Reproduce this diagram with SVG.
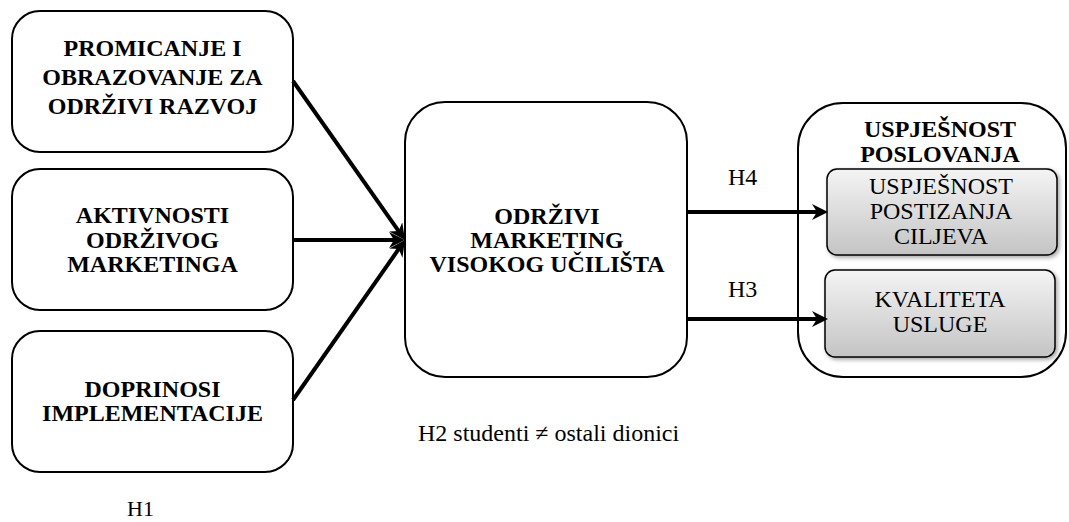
<svg xmlns="http://www.w3.org/2000/svg" width="1069" height="522" viewBox="0 0 1069 522">
<style>
.box{fill:#fff;stroke:#000;stroke-width:2}
.inner{fill:url(#g);stroke:#000;stroke-width:1.5;filter:url(#sh)}
.tb{font-family:"Liberation Serif","Times New Roman",serif;font-weight:bold;font-size:24px;text-anchor:middle;fill:#000}
.tr{font-family:"Liberation Serif","Times New Roman",serif;font-size:24px;text-anchor:middle;fill:#000}
.lbl{font-family:"Liberation Serif","Times New Roman",serif;font-size:24px;fill:#000}
.con{stroke:#000;stroke-width:4;fill:none;marker-end:url(#ah)}
</style>
<defs>
<linearGradient id="g" x1="0" y1="0" x2="0" y2="1">
<stop offset="0" stop-color="#f4f4f4"/>
<stop offset="1" stop-color="#c4c4c4"/>
</linearGradient>
<filter id="sh" x="-10%" y="-10%" width="130%" height="140%">
<feDropShadow dx="2" dy="2" stdDeviation="2" flood-color="#000" flood-opacity="0.35"/>
</filter>
<marker id="ah" markerUnits="userSpaceOnUse" viewBox="0 0 16 16" refX="6" refY="8" markerWidth="16" markerHeight="16" orient="auto">
<path d="M0,0 L16,8 L0,16 L5,8 z" fill="#000"/>
</marker>
</defs>
<g id="n1">
<rect class="box" x="12" y="11" width="281" height="141" rx="28"/>
<text class="tb" x="152.5" y="56">PROMICANJE I</text>
<text class="tb" x="152.5" y="85">OBRAZOVANJE ZA</text>
<text class="tb" x="152.5" y="114">ODRŽIVI RAZVOJ</text>
</g>
<g id="n2">
<rect class="box" x="12" y="169" width="281" height="141" rx="28"/>
<text class="tb" x="152.5" y="223">AKTIVNOSTI</text>
<text class="tb" x="152.5" y="248">ODRŽIVOG</text>
<text class="tb" x="152.5" y="272">MARKETINGA</text>
</g>
<g id="n3">
<rect class="box" x="12" y="331" width="281" height="141" rx="28"/>
<text class="tb" x="152.5" y="397">DOPRINOSI</text>
<text class="tb" x="152.5" y="421">IMPLEMENTACIJE</text>
</g>
<g id="n4">
<rect class="box" x="405" y="102" width="282" height="275" rx="40"/>
<text class="tb" x="547" y="224">ODRŽIVI</text>
<text class="tb" x="547" y="248">MARKETING</text>
<text class="tb" x="547" y="272">VISOKOG UČILIŠTA</text>
</g>
<g id="n5">
<rect class="box" x="798" y="103" width="268" height="274" rx="45"/>
<text class="tb" x="940" y="137">USPJEŠNOST</text>
<text class="tb" x="940" y="162">POSLOVANJA</text>
</g>
<g id="n6">
<rect class="inner" x="827" y="169" width="230" height="86" rx="10"/>
<text class="tr" x="941" y="194">USPJEŠNOST</text>
<text class="tr" x="941" y="219">POSTIZANJA</text>
<text class="tr" x="941" y="244">CILJEVA</text>
</g>
<g id="n7">
<rect class="inner" x="825" y="270" width="230" height="87" rx="10"/>
<text class="tr" x="940" y="307">KVALITETA</text>
<text class="tr" x="940" y="332">USLUGE</text>
</g>
<g id="connectors">
<line class="con" x1="293" y1="81" x2="399.2" y2="231.8"/>
<line class="con" x1="293" y1="240" x2="395" y2="240"/>
<line class="con" x1="293" y1="400" x2="399.3" y2="248.2"/>
<line class="con" x1="688" y1="212" x2="818" y2="212"/>
<line class="con" x1="688" y1="319" x2="818" y2="319"/>
</g>
<g id="labels">
<text class="lbl" x="728" y="185">H4</text>
<text class="lbl" x="728" y="297">H3</text>
<text class="lbl" x="418" y="441">H2 studenti ≠ ostali dionici</text>
<text class="lbl" x="127" y="516" style="font-size:22px">H1</text>
</g>
</svg>
